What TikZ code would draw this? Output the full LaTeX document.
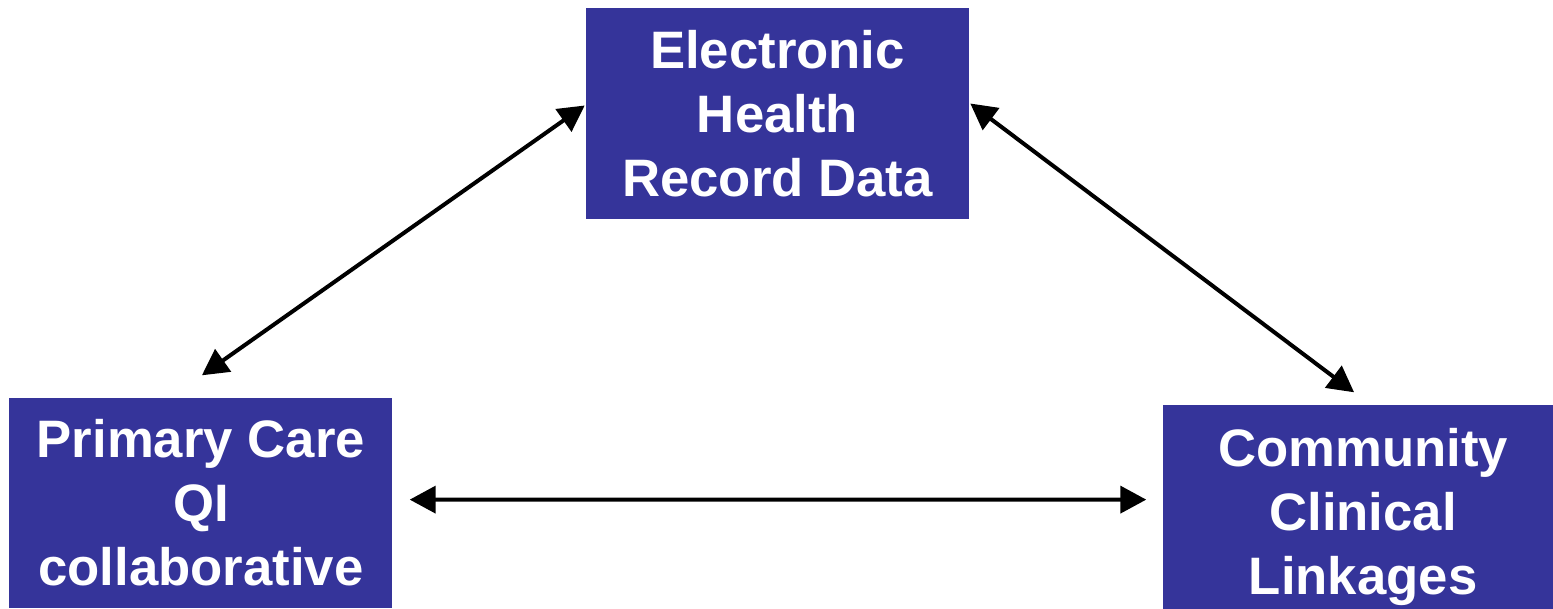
\documentclass[tikz,border=0pt]{standalone}
\usepackage{fontspec}
\setmainfont{Liberation Sans}
\usetikzlibrary{positioning, arrows.meta}

\definecolor{boxblue}{HTML}{35349A}

\begin{document}
\begin{tikzpicture}[x=0.02cm, y=-0.02cm,
    block/.style={rectangle, fill=boxblue, text=white, inner sep=0pt, align=center,
        font=\fontsize{30}{36.4}\selectfont\bfseries},
    link/.style={{Triangle[length=0.52cm, width=0.54cm]}-{Triangle[length=0.52cm, width=0.54cm]}, line width=0.08cm}]
            \useasboundingbox (0,0) rectangle (1553,609);
            % Nodes
            \node (ehr) [block, minimum width=7.66cm, minimum height=4.22cm] at (777.5,113.5) {Electronic\\Health\\Record Data};
            \node (primary) [block, below left=3.56cm and 3.86cm of ehr, minimum width=7.66cm, minimum height=4.2cm] {Primary Care\\QI\\collaborative};
            \node (community) [block, below right=3.7cm and 3.86cm of ehr, minimum width=7.82cm, minimum height=4.1cm, text width=7.6cm] {\\[-0.13cm]\hspace*{0.2cm}Community\\\hspace*{0.2cm}Clinical\\\hspace*{0.2cm}Linkages};

            % Arrows
            \draw[link] ([shift={(1,-22)}]primary.north) -- ([shift={(-1,-8)}]ehr.west);
            \draw[link] ([shift={(1,-10)}]ehr.east) -- ([shift={(-4,-12)}]community.north);
            \draw[link] ([shift={(17,-3)}]primary.east) -- ([shift={(-16,-7.5)}]community.west);
\end{tikzpicture}
\end{document}
